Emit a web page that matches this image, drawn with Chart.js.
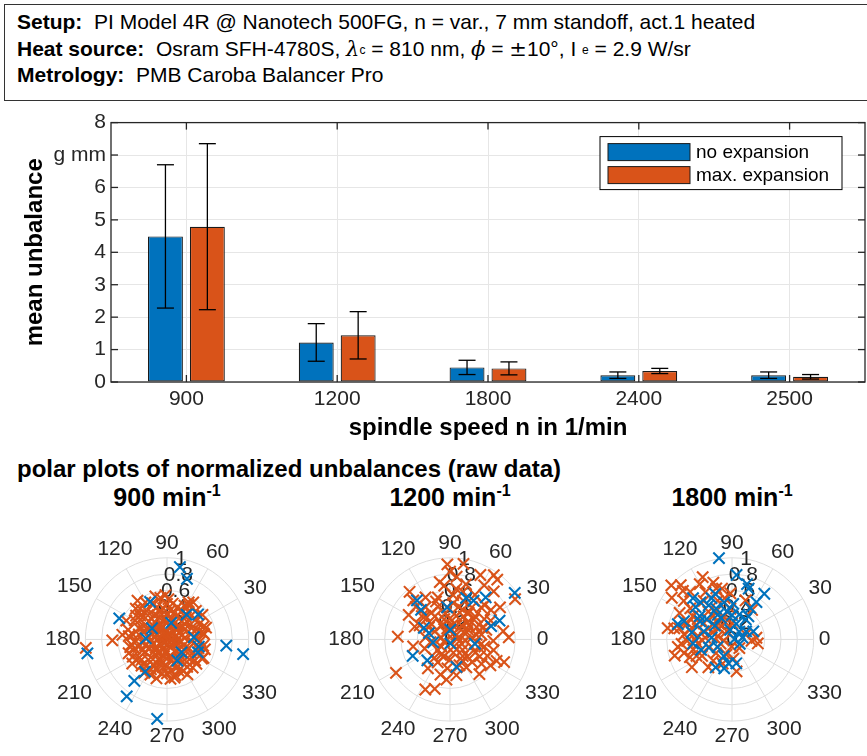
<!DOCTYPE html>
<html>
<head>
<meta charset="utf-8">
<script src="https://cdn.jsdelivr.net/npm/chart.js@4.4.0/dist/chart.umd.min.js"></script>
<style>
  body { margin: 0; width: 867px; height: 756px; overflow: hidden; background: #fff; position: relative;
         font-family: "Liberation Sans", Arial, Helvetica, sans-serif; color: #000; }
  #info { position: absolute; left: 4px; top: 4px; width: 900px; height: 97px; box-sizing: border-box;
          border: 1.3px solid #333; }
  #info div { position: absolute; left: 12px; font-size: 21px; line-height: 26px; white-space: pre; }
  .sym { font-family: "DejaVu Serif", "Liberation Serif", serif; }
  .it { font-style: italic; }
  sub { font-size: 12px; vertical-align: 2px; }
  canvas { position: absolute; }
  .head { position: absolute; font-weight: bold; white-space: nowrap; }
  .ptitle { position: absolute; width: 200px; text-align: center; font-weight: bold; font-size: 25px; line-height: 28px; }
  .ptitle sup { font-size: 16px; vertical-align: 10px; line-height: 0; }
</style>
</head>
<body>
<div id="info">
  <div style="top:4px"><b>Setup:</b>  PI Model 4R @ Nanotech 500FG, n = var., 7 mm standoff, act.1 heated</div>
  <div style="top:31px"><b>Heat source:</b>  Osram SFH-4780S, <span class="sym it">λ</span><sub>c</sub> = 810 nm, <span class="sym it">ϕ</span> = <span class="sym">±</span>10°, I <sub>e</sub> = 2.9 W/sr</div>
  <div style="top:57px"><b>Metrology:</b>  PMB Caroba Balancer Pro</div>
</div>

<canvas id="bars" width="867" height="345" style="left:0;top:105px"></canvas>

<div class="head" style="left:17px;top:455px;font-size:24px;line-height:28px">polar plots of normalized unbalances (raw data)</div>
<div class="ptitle" style="left:67px;top:483px">900 min<sup>-1</sup></div>
<div class="ptitle" style="left:350px;top:483px">1200 min<sup>-1</sup></div>
<div class="ptitle" style="left:632px;top:483px">1800 min<sup>-1</sup></div>

<canvas id="p900" width="280" height="246" style="left:27px;top:510px"></canvas>
<canvas id="p1200" width="280" height="246" style="left:310px;top:510px"></canvas>
<canvas id="p1800" width="280" height="246" style="left:592px;top:510px"></canvas>

<script>
// bar chart data
const speeds = ['900', '1200', '1800', '2400', '2500'];
const meanNoExp = [4.49, 1.22, 0.45, 0.21, 0.21];
const errNoExp = [2.21, 0.58, 0.22, 0.10, 0.10];
const meanMaxExp = [4.79, 1.44, 0.42, 0.34, 0.16];
const errMaxExp = [2.56, 0.73, 0.20, 0.08, 0.07];
const yTickLabels = ['0', '1', '2', '3', '4', '5', '6', 'g mm', '8'];

// polar data, [angle in deg, normalized magnitude]
const polar900NoExp = [[80,0.91],[72,0.79],[114,0.51],[156,0.64],[76,0.21],[52,0.39],[39,0.49],[143,0.23],[177,0.26],[5,0.33],
  [347,0.40],[354,0.73],[349,0.95],[190,0.99],[318,0.24],[296,0.29],[236,0.48],[232,0.65],[235,0.86],[263,0.99],[337,0.41]];
const polar900MaxExp = [[10,0.08],[55,0.12],[100,0.10],[150,0.14],[200,0.06],[250,0.13],[290,0.09],[335,0.11],
  [5,0.22],[30,0.25],[52,0.20],[78,0.27],[98,0.24],[122,0.21],[148,0.26],[172,0.23],[195,0.28],[222,0.20],[248,0.25],[275,0.22],[302,0.27],[330,0.24],
  [3,0.35],[18,0.38],[43,0.33],[62,0.40],[84,0.36],[97,0.39],[118,0.34],[143,0.41],[158,0.37],[183,0.38],[204,0.33],[219,0.40],[243,0.36],[262,0.35],[278,0.39],[303,0.34],[318,0.37],[344,0.40],
  [8,0.46],[26,0.44],[45,0.50],[63,0.47],[81,0.45],[99,0.52],[112,0.48],[131,0.50],[149,0.46],[166,0.49],[188,0.44],[207,0.47],[226,0.45],[245,0.48],[262,0.43],[283,0.46],[297,0.44],[312,0.47],[331,0.49],[350,0.45],
  [186,1.0],[181,0.67],[174,0.55],[127,0.60],[105,0.55],[92,0.55],[55,0.56],[17,0.50],[333,0.50],[281,0.48],[242,0.42],[192,0.46],[10,0.45],
  [30,0.17],[75,0.16],[125,0.18],[170,0.15],[215,0.17],[265,0.16],[310,0.18],[350,0.16],
  [12,0.30],[40,0.29],[68,0.31],[90,0.30],[110,0.29],[135,0.31],[160,0.30],[185,0.29],[210,0.31],[235,0.30],[255,0.29],[285,0.31],[310,0.30],[338,0.29],
  [15,0.41],[35,0.42],[53,0.43],[72,0.42],[90,0.44],[107,0.42],[125,0.43],[138,0.44],[172,0.42],[196,0.41],[214,0.43],[232,0.42],[252,0.40],[270,0.42],[290,0.41],[306,0.42],[323,0.43],[338,0.42],[357,0.41],
  [60,0.03],[240,0.04],[60,0.53],[135,0.54],[155,0.55],[215,0.52],[255,0.50],[300,0.50],[35,0.53],
  [0,0.13],[20,0.12],[45,0.07],[85,0.05],[120,0.07],[140,0.05],[165,0.10],[185,0.12],[225,0.10],[270,0.06],[315,0.05],[355,0.06],
  [15,0.19],[45,0.18],[65,0.23],[88,0.21],[110,0.17],[135,0.22],[160,0.19],[183,0.20],[208,0.24],[235,0.19],[260,0.21],[288,0.24],[320,0.19],[342,0.22],
  [25,0.33],[50,0.36],[75,0.34],[105,0.35],[128,0.38],[150,0.33],[170,0.35],[195,0.36],[228,0.34],[250,0.38],[270,0.33],[292,0.36],[330,0.35],[352,0.33],
  [20,0.48],[58,0.50],[88,0.50],[120,0.53],[142,0.48],[175,0.47],[200,0.50],[236,0.50],[275,0.49],[320,0.47],[345,0.48]];

const polar1200NoExp = [[36,0.98],[130,0.63],[134,0.51],[95,0.40],[69,0.55],[59,0.56],[50,0.68],[21,0.65],[18,0.53],[156,0.35],
  [163,0.27],[88,0.12],[274,0.05],[350,0.31],[204,0.50],[223,0.38],[283,0.35],[190,0.21]];
const polar1200MaxExp = [[92,0.93],[90,0.84],[84,0.78],[74,0.71],[58,0.79],[56,0.96],[52,0.94],[32,0.94],[106,0.54],[130,0.77],
  [149,0.59],[160,0.46],[177,0.64],[191,0.46],[212,0.78],[233,0.45],[244,0.69],[253,0.64],[265,0.36],[310,0.56],
  [337,0.72],[335,0.63],[336,0.50],[2,0.72],[83,0.63],[96,0.67],[86,0.55],[75,0.61],[56,0.48],[46,0.55],
  [36,0.62],[33,0.73],[9,0.66],[358,0.53],[9,0.39],[37,0.29],[75,0.30],[106,0.26],[123,0.34],[136,0.42],
  [155,0.41],[188,0.24],[221,0.20],[251,0.22],[284,0.17],[307,0.26],[314,0.39],[322,0.49],[327,0.59],[356,0.19],
  [37,0.10],[168,0.11],[152,0.21],[67,0.40],[95,0.40],[110,0.43],[127,0.50],[136,0.58],[43,0.42],[31,0.49],
  [348,0.43],[332,0.35],[242,0.32],[290,0.34],[346,0.55],[133,0.66],[104,0.14],[341,0.28],[220,0.14],[66,0.19],
  [61,0.63],[48,0.80],
  [20,0.20],[50,0.22],[80,0.18],[120,0.20],[140,0.30],[60,0.33],[25,0.36],[5,0.27],[320,0.20],[300,0.30],
  [270,0.25],[240,0.22],[200,0.33],[175,0.30],[100,0.33],[85,0.45],[70,0.50],[40,0.38],[15,0.46],[330,0.42],
  [315,0.30],[280,0.45],[255,0.45],[230,0.30],[120,0.60],[100,0.72],[65,0.88],[80,0.95],[45,0.60],[25,0.55],
  [10,0.10],[60,0.08],[120,0.10],[200,0.08],[300,0.10],[45,0.30],[90,0.26],[150,0.30],[340,0.15],[10,0.33],
  [55,0.40],[110,0.50],[140,0.45],[20,0.42],[350,0.38],[300,0.40],[265,0.50],[75,0.42],[30,0.25],[125,0.40]];

const polar1800NoExp = [[99,1.02],[86,0.80],[75,0.71],[55,0.69],[57,0.55],[72,0.66],[133,0.70],[130,0.60],[124,0.51],[117,0.43],
  [100,0.35],[74,0.32],[56,0.30],[75,0.20],[101,0.12],[47,0.13],[10,0.13],[6,0.03],[164,0.69],[159,0.63],
  [144,0.49],[141,0.40],[141,0.27],[117,0.30],[164,0.36],[175,0.25],[186,0.48],[199,0.40],[208,0.20],[244,0.23],
  [262,0.30],[255,0.37],[330,0.11],[55,0.35],[21,0.28],[138,0.60],[116,0.57],[102,0.47],[88,0.44],
  [120,0.35],[90,0.30],[60,0.45],[150,0.45],[170,0.50],[30,0.20],[110,0.60],[280,0.30],[240,0.40],[200,0.30]];
const polar1800MaxExp = [[138,1.00],[133,0.92],[131,0.78],[120,0.79],[108,0.74],[101,0.64],[92,0.57],[119,0.67],[141,0.76],[143,0.64],
  [153,0.72],[169,0.72],[168,0.66],[174,0.59],[167,0.53],[158,0.47],[155,0.32],[182,0.55],[188,0.67],[196,0.73],
  [196,0.61],[195,0.49],[187,0.42],[209,0.42],[198,0.30],[229,0.35],[176,0.33],[167,0.18],[189,0.10],[139,0.21],
  [111,0.23],[129,0.37],[130,0.45],[149,0.49],[122,0.12],[274,0.24],[278,0.40],[310,0.14],[20,0.18],[356,0.24],
  [4,0.30],[351,0.32],[56,0.44],[71,0.51],[268,0.09],[249,0.32],[221,0.26],[149,0.56],[126,0.59],[110,0.51],
  [93,0.38],[107,0.66],[174,0.42],[203,0.56],
  [150,0.40],[160,0.58],[180,0.45],[140,0.30],[120,0.40],[100,0.52],[135,0.85],[145,0.90],[115,0.85],[170,0.80],
  [185,0.62],[205,0.48],[215,0.60],[230,0.45],[250,0.20],[160,0.25],[110,0.30],[200,0.15],[130,0.25],[90,0.20]];

const rTicks = [0, 0.2, 0.4, 0.6, 0.8, 1];
const rTickLabels = ['0', '0.2', '0.4', '0.6', '0.8', '1'];
const angleTicks = [0, 30, 60, 90, 120, 150, 180, 210, 240, 270, 300, 330];

const BLUE = '#0072BD';
const ORANGE = '#D95319';
const AXIS = '#262626';

function line(ctx, x1, y1, x2, y2) {
  ctx.beginPath();
  ctx.moveTo(x1, y1);
  ctx.lineTo(x2, y2);
  ctx.stroke();
}

const errorBars = {
  id: 'errorBars',
  afterDatasetsDraw(chart) {
    const ctx = chart.ctx;
    const y = chart.scales.y;
    ctx.save();
    ctx.strokeStyle = '#000';
    ctx.lineWidth = 1.3;
    chart.data.datasets.forEach((ds, i) => {
      chart.getDatasetMeta(i).data.forEach((bar, j) => {
        const lo = y.getPixelForValue(ds.data[j] - ds.err[j]);
        const hi = y.getPixelForValue(ds.data[j] + ds.err[j]);
        line(ctx, bar.x, lo, bar.x, hi);
        line(ctx, bar.x - 8.5, lo, bar.x + 8.5, lo);
        line(ctx, bar.x - 8.5, hi, bar.x + 8.5, hi);
      });
    });
    ctx.restore();
  }
};

// matlab-like box with inward ticks + legend
const axesBox = {
  id: 'axesBox',
  afterDraw(chart) {
    const { ctx, chartArea: a, scales: { x, y } } = chart;
    ctx.save();
    ctx.strokeStyle = AXIS;
    ctx.lineWidth = 1.3;
    ctx.strokeRect(a.left, a.top, a.right - a.left, a.bottom - a.top);
    y.ticks.forEach((t, i) => {
      const py = y.getPixelForTick(i);
      line(ctx, a.left, py, a.left + 7, py);
      line(ctx, a.right, py, a.right - 7, py);
    });
    x.ticks.forEach((t, i) => {
      const px = x.getPixelForTick(i);
      line(ctx, px, a.bottom, px, a.bottom - 7);
      line(ctx, px, a.top, px, a.top + 7);
    });

    // legend
    const lx = a.right - 265, ly = a.top + 14;
    ctx.fillStyle = '#fff';
    ctx.fillRect(lx, ly, 242, 53);
    ctx.lineWidth = 1;
    ctx.strokeStyle = '#000';
    ctx.strokeRect(lx, ly, 242, 53);
    ctx.font = '19px "Liberation Sans", Arial, sans-serif';
    ctx.textBaseline = 'middle';
    chart.data.datasets.forEach((ds, i) => {
      const sy = ly + 7 + i * 23;
      ctx.fillStyle = ds.backgroundColor;
      ctx.fillRect(lx + 8, sy, 82, 17);
      ctx.strokeStyle = '#1a1a1a';
      ctx.strokeRect(lx + 8, sy, 82, 17);
      ctx.fillStyle = '#000';
      ctx.fillText(ds.label, lx + 96, sy + 9);
    });
    ctx.restore();
  }
};

new Chart(document.getElementById('bars'), {
  type: 'bar',
  data: {
    labels: speeds,
    datasets: [
      { label: 'no expansion', data: meanNoExp, err: errNoExp, backgroundColor: BLUE },
      { label: 'max. expansion', data: meanMaxExp, err: errMaxExp, backgroundColor: ORANGE }
    ]
  },
  options: {
    responsive: false,
    animation: false,
    events: [],
    categoryPercentage: 0.556,
    barPercentage: 0.833,
    datasets: { bar: { borderColor: '#1a1a1a', borderWidth: 1.2, borderSkipped: false } },
    layout: { padding: { top: 14, right: 2, left: 0, bottom: 0 } },
    plugins: { legend: { display: false }, tooltip: { enabled: false } },
    scales: {
      x: {
        grid: { offset: false, color: '#e6e6e6', drawTicks: false },
        border: { display: false },
        ticks: { color: AXIS, font: { size: 21 }, padding: 5 },
        title: { display: true, text: 'spindle speed n in 1/min', color: '#000',
                 font: { size: 24, weight: 'bold' }, padding: { top: 0, bottom: 7 } },
        afterFit(s) { s.height = 68; }
      },
      y: {
        min: 0, max: 8,
        grid: { color: '#e6e6e6', drawTicks: false },
        border: { display: false },
        ticks: { stepSize: 1, color: AXIS, font: { size: 21 }, padding: 5,
                 callback: (v) => yTickLabels[v] },
        title: { display: true, text: 'mean unbalance', color: '#000',
                 font: { size: 24, weight: 'bold' }, padding: { top: 21, bottom: 0 } },
        afterFit(s) { s.width = 111; }
      }
    }
  },
  plugins: [errorBars, axesBox]
});

// polar grid drawn on a square-scaled scatter
const polarGrid = {
  id: 'polarGrid',
  beforeDatasetsDraw(chart) {
    const { ctx, scales: { x, y } } = chart;
    const cx = x.getPixelForValue(0), cy = y.getPixelForValue(0);
    const R = x.getPixelForValue(1) - cx;
    ctx.save();
    ctx.strokeStyle = '#dedede';
    ctx.lineWidth = 1;
    rTicks.forEach(r => {
      if (r > 0) { ctx.beginPath(); ctx.arc(cx, cy, r * R, 0, 2 * Math.PI); ctx.stroke(); }
    });
    angleTicks.forEach(a => {
      const t = a * Math.PI / 180;
      line(ctx, cx, cy, cx + R * Math.cos(t), cy - R * Math.sin(t));
    });
    ctx.fillStyle = AXIS;
    ctx.font = '21px "Liberation Sans", Arial, sans-serif';
    ctx.textAlign = 'center';
    ctx.textBaseline = 'middle';
    angleTicks.forEach(a => {
      const t = a * Math.PI / 180;
      const w = ctx.measureText(String(a)).width;
      const d = R + 5 + Math.abs(Math.cos(t)) * w / 2 + Math.abs(Math.sin(t)) * 10;
      ctx.fillText(String(a), cx + d * Math.cos(t), cy - d * Math.sin(t));
    });
    const ta = 80 * Math.PI / 180;
    rTicks.forEach((r, i) => {
      ctx.fillText(rTickLabels[i], cx + r * R * Math.cos(ta), cy - r * R * Math.sin(ta));
    });
    ctx.restore();
  }
};

function toXY(pts) {
  return pts.map(([deg, r]) => ({ x: r * Math.cos(deg * Math.PI / 180), y: r * Math.sin(deg * Math.PI / 180) }));
}

function makePolar(id, noExp, maxExp) {
  const marker = (c) => ({ pointStyle: 'crossRot', pointRadius: 8, pointBorderWidth: 2.1,
                           pointBorderColor: c, pointBackgroundColor: c, showLine: false });
  new Chart(document.getElementById(id), {
    type: 'scatter',
    data: {
      datasets: [
        { label: 'no expansion', data: toXY(noExp), ...marker(BLUE) },
        { label: 'max. expansion', data: toXY(maxExp), ...marker(ORANGE) }
      ]
    },
    options: {
      responsive: false,
      animation: false,
      events: [],
      layout: { padding: 0 },
      plugins: { legend: { display: false }, tooltip: { enabled: false } },
      scales: {
        x: { display: false, min: -140 / 88, max: 140 / 88 },
        y: { display: false, min: -116 / 88, max: 130 / 88 }
      }
    },
    plugins: [polarGrid]
  });
}

makePolar('p900', polar900NoExp, polar900MaxExp);
makePolar('p1200', polar1200NoExp, polar1200MaxExp);
makePolar('p1800', polar1800NoExp, polar1800MaxExp);
</script>
</body>
</html>
